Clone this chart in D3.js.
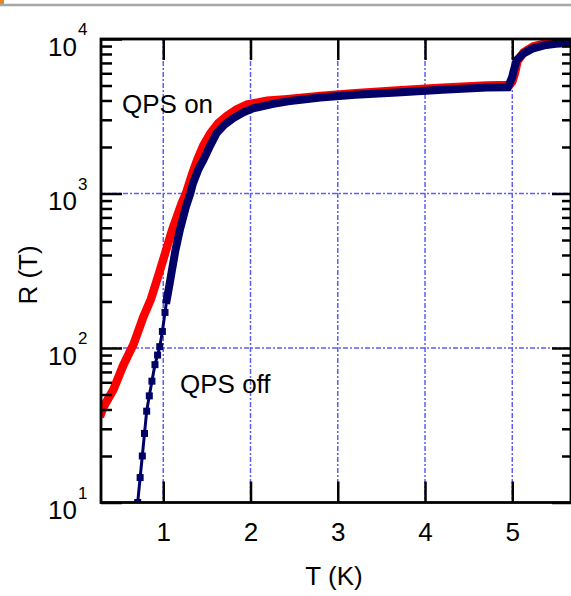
<!DOCTYPE html>
<html lang="en">
<head>
<meta charset="utf-8">
<script src="https://d3js.org/d3.v7.min.js"></script>
<style>
  body { margin: 0; background: #fff; }
  svg { display: block; background: #fff; }
  text { font-family: "Liberation Sans", Arial, sans-serif; fill: #000; }
  .tick line { stroke: #000; stroke-width: 2.5; }
  .grid line { stroke: #5c5cff; stroke-width: 1.5; stroke-dasharray: 5,2,2,2; }
</style>
</head>
<body>
<script>
// QPS on (red)
var onT = [0.29, 0.31, 0.43, 0.54, 0.66, 0.77, 0.86, 0.96, 1.10, 1.21, 1.26, 1.33, 1.39, 1.46, 1.54, 1.63, 1.73, 1.84, 1.96, 2.19, 2.42, 2.8, 3.2, 3.68, 4.2, 4.71, 4.97, 5.0, 5.03, 5.06, 5.13, 5.24, 5.39, 5.5, 5.67];
var onR = [38, 41, 54, 77, 106, 158, 208, 315, 575, 860, 1000, 1330, 1650, 2050, 2450, 2850, 3180, 3500, 3760, 3990, 4080, 4280, 4450, 4650, 4830, 5000, 5030, 5300, 6000, 7200, 8200, 8950, 9400, 9550, 9750];
// QPS off (navy)
var offT = [0.707, 0.735, 0.76, 0.785, 0.81, 0.84, 0.87, 0.905, 0.935, 0.96, 0.99, 1.02, 1.04, 1.07, 1.10, 1.14, 1.19, 1.26, 1.31, 1.34, 1.40, 1.46, 1.53, 1.61, 1.70, 1.80, 1.92, 2.03, 2.26, 2.43, 2.8, 3.2, 3.68, 4.2, 4.71, 4.95, 5.0, 5.013, 5.05, 5.13, 5.24, 5.39, 5.5, 5.67];
var offR = [10, 14.5, 20, 28, 39, 49, 61, 78, 90, 102, 128, 170, 205, 255, 320, 430, 580, 820, 1000, 1160, 1420, 1650, 2000, 2450, 2780, 3070, 3350, 3560, 3800, 3955, 4180, 4360, 4510, 4700, 4855, 4870, 5700, 6140, 7300, 8070, 8710, 9150, 9300, 9450];

var xTicks = [1, 2, 3, 4, 5];
var yMajor = [10, 100, 1000, 10000];
var yExp = ["1", "2", "3", "4"];
var xTitle = "T (K)";
var yTitle = "R (T)";
var labelOn = "QPS on";
var labelOff = "QPS off";

var W = 571, H = 596;
var svg = d3.select("body").append("svg").attr("width", W).attr("height", H);

// header strip
svg.append("rect").attr("x", 0).attr("y", 0).attr("width", 4).attr("height", 6).attr("fill", "#e0861c");
svg.append("line").attr("x1", 0).attr("x2", W).attr("y1", 5).attr("y2", 5)
  .attr("stroke", "#a6a6a6").attr("stroke-width", 2.5);

var L = 101, R = 571, T = 39, B = 502.5;
var x = d3.scaleLinear().domain([0.2865, 5.673]).range([L, R]);
var y = d3.scaleLog().domain([10, 10000]).range([B, T]);

var yMinor = [];
yMajor.slice(0, 3).forEach(function(d){ for (var k = 2; k <= 9; k++) yMinor.push(d * k); });

// grid
var grid = svg.append("g").attr("class", "grid");
grid.selectAll(".gx").data(xTicks).enter().append("line")
  .attr("x1", d => x(d)).attr("x2", d => x(d)).attr("y1", T).attr("y2", B);
grid.selectAll(".gy").data([100, 1000]).enter().append("line")
  .attr("x1", L).attr("x2", R).attr("y1", d => y(d)).attr("y2", d => y(d));

// curves
var clip = svg.append("clipPath").attr("id", "clip")
  .append("rect").attr("x", L).attr("y", T).attr("width", R - L).attr("height", B - T);
var plot = svg.append("g").attr("clip-path", "url(#clip)");

var onData = onT.map((t, i) => [t, onR[i]]);
var offData = offT.map((t, i) => [t, offR[i]]);
var line = d3.line().x(d => x(d[0])).y(d => y(d[1]));

plot.append("path").attr("d", line(onData)).attr("fill", "none")
  .attr("stroke", "#ff0000").attr("stroke-width", 8.5).attr("stroke-linecap", "square");

plot.append("path").attr("d", line(offData)).attr("fill", "none")
  .attr("stroke", "#000066").attr("stroke-width", 3);
plot.append("path").attr("d", line(offData.filter(d => d[1] >= 200))).attr("fill", "none")
  .attr("stroke", "#000066").attr("stroke-width", 8).attr("stroke-linecap", "square");
plot.selectAll(".mk").data(offData.filter(d => d[1] < 200)).enter().append("rect")
  .attr("x", d => x(d[0]) - 3.5).attr("y", d => y(d[1]) - 3.5)
  .attr("width", 7).attr("height", 7).attr("fill", "#000066");

// axes (ticks point inward)
function noDomain(g){ g.select(".domain").remove(); }
svg.append("g").attr("transform", "translate(0," + B + ")")
  .call(d3.axisBottom(x).tickValues(xTicks).tickFormat(d3.format("d"))
    .tickSizeInner(-21).tickSizeOuter(0).tickPadding(20.5))
  .call(noDomain)
  .call(g => g.selectAll("text").style("font-size", "26px").attr("font-family", null));
svg.append("g").attr("transform", "translate(0," + T + ")")
  .call(d3.axisTop(x).tickValues(xTicks).tickSizeInner(-21).tickSizeOuter(0).tickFormat(""))
  .call(noDomain);
svg.append("g").attr("transform", "translate(" + L + ",0)")
  .call(d3.axisLeft(y).tickValues(yMajor).tickSizeInner(-21).tickSizeOuter(0).tickFormat(""))
  .call(noDomain);
svg.append("g").attr("transform", "translate(" + L + ",0)")
  .call(d3.axisLeft(y).tickValues(yMinor).tickSizeInner(-11).tickSizeOuter(0).tickFormat(""))
  .call(noDomain);
svg.append("g").attr("transform", "translate(" + R + ",0)")
  .call(d3.axisRight(y).tickValues(yMajor).tickSizeInner(-19).tickSizeOuter(0).tickFormat(""))
  .call(noDomain);
svg.append("g").attr("transform", "translate(" + R + ",0)")
  .call(d3.axisRight(y).tickValues(yMinor).tickSizeInner(-9).tickSizeOuter(0).tickFormat(""))
  .call(noDomain);

// frame
svg.append("rect").attr("x", L).attr("y", T).attr("width", R - L).attr("height", B - T)
  .attr("fill", "none").attr("stroke", "#000").attr("stroke-width", 2.8);

// y tick labels 10^n
var yl = svg.append("g");
yl.selectAll(".b").data(yMajor).enter().append("text")
  .attr("x", 77).attr("y", d => y(d) + 16.5).attr("text-anchor", "end")
  .style("font-size", "26px").text("10");
yl.selectAll(".e").data(yMajor).enter().append("text")
  .attr("x", 78).attr("y", d => y(d) - 4).attr("text-anchor", "start")
  .style("font-size", "17px").text((d, i) => yExp[i]);

// titles
svg.append("text").attr("x", 334).attr("y", 585).attr("text-anchor", "middle")
  .style("font-size", "26px").text(xTitle);
svg.append("text").attr("transform", "translate(37,275) rotate(-90)").attr("text-anchor", "middle")
  .style("font-size", "26px").text(yTitle);

// annotations
svg.append("text").attr("x", 122).attr("y", 113).style("font-size", "26px").text(labelOn);
svg.append("text").attr("x", 180).attr("y", 392.5).style("font-size", "26px").text(labelOff);
</script>
</body>
</html>
